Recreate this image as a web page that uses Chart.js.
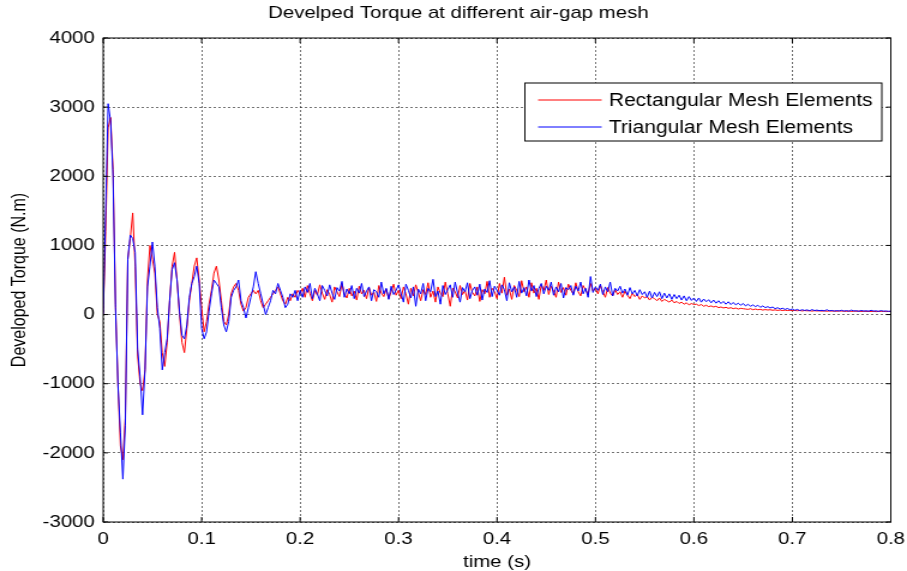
<!DOCTYPE html>
<html>
<head>
<meta charset="utf-8">
<script src="https://cdn.jsdelivr.net/npm/chart.js@4.4.1/dist/chart.umd.min.js"></script>
<style>
  html, body { margin: 0; padding: 0; background: #fff; }
  canvas { display: block; }
</style>
</head>
<body>
<!-- drawn narrow and stretched to 907px, like the original figure export -->
<canvas id="c" width="756" height="571" style="width:907px;height:571px"></canvas>
<script>
const TITLE = 'Develped Torque at different air-gap mesh';
const X_LABEL = 'time (s)';
const Y_LABEL = 'Developed Torque (N.m)';
const SERIES_NAMES = ['Rectangular Mesh Elements', 'Triangular Mesh Elements'];
const X_TICKS = [0, 0.1, 0.2, 0.3, 0.4, 0.5, 0.6, 0.7, 0.8];
const Y_TICKS = [-3000, -2000, -1000, 0, 1000, 2000, 3000, 4000];
const SAMPLE_STEP = 0.0025; // s between samples

// torque samples (N.m)
const RECT = [
  // 0 - 0.2 s
  0, 1200, 2700, 2850, 2100, 150, -1000, -1900, -2100, -1500,
  800, 1100, 1470, 700, -600, -1000, -1100, -800, 500, 1000,
  800, 600, 0, -100, -550, -750, -400, 200, 700, 900,
  500, 0, -400, -550, -200, 200, 450, 700, 820, 500,
  100, -250, -100, 150, 350, 600, 700, 500, 200, -100,
  -150, 0, 300, 400, 450, 350, 150, 50, 100, 250,
  300, 350, 300, 350, 200, 100, 150, 200, 250, 300,
  350, 400, 300, 200, 150, 250, 200, 300, 250, 350,
  300,
  // 0.2 - 0.5 s
  380, 250, 420, 300, 200, 350, 280, 430, 310, 220,
  360, 290, 180, 400, 330, 260, 450, 300, 240, 380,
  270, 340, 210, 410, 300, 350, 230, 390, 280, 320,
  190, 420, 310, 260, 370, 230, 330, 440, 280, 350,
  230, 400, 300, 150, 380, 270, 430, 320, 200, 360,
  290, 460, 250, 340, 180, 400, 310, 260, 470, 300,
  120, 380, 330, 240, 420, 290, 350, 210, 450, 320,
  270, 400, 190, 360, 300, 480, 250, 380, 330, 230,
  450, 310, 540, 280, 370, 220, 420, 350, 260, 490,
  330, 400, 250, 460, 310, 380, 220, 430, 350, 500,
  290, 410, 340, 250, 470, 320, 390, 280, 440, 350,
  300, 460, 330, 270, 420, 360, 290, 450, 340, 380,
  // 0.5 - 0.8 s
  300, 420, 330, 250, 390, 310, 270, 360, 290, 330,
  250, 340, 280, 230, 310, 260, 290, 220, 270, 240,
  260, 210, 250, 230, 200, 240, 190, 220, 200, 180,
  210, 170, 190, 160, 180, 150, 170, 140, 160, 145,
  150, 130, 145, 120, 135, 115, 125, 110, 120, 100,
  110, 95, 105, 90, 100, 85, 95, 80, 90, 85,
  80, 75, 85, 70, 80, 70, 75, 65, 72, 66,
  70, 62, 68, 60, 66, 58, 64, 58, 62, 57,
  60, 55, 60, 52, 58, 54, 56, 50, 56, 52,
  55, 50, 54, 48, 53, 50, 52, 47, 53, 50,
  50, 46, 52, 45, 50, 47, 51, 44, 49, 46,
  48, 44, 47, 42, 48, 45, 47, 43, 46, 44
];

const TRI = [
  // 0 - 0.2 s
  0, 1500, 3050, 2800, 2000, 100, -1000, -1700, -2380, -1600,
  800, 1150, 1100, 900, -500, -900, -1450, -800, 400, 700,
  1050, 700, 100, -200, -800, -550, -350, 200, 650, 750,
  500, 50, -300, -350, -150, 250, 450, 550, 700, 450,
  -200, -350, -250, 50, 300, 500, 450, 400, 100, -150,
  -250, -100, 250, 350, 400, 500, 200, 100, -50, 100,
  250, 400, 620, 450, 300, 150, 0, 100, 200, 350,
  300, 450, 350, 250, 100, 150, 300, 250, 350, 200,
  350,
  // 0.2 - 0.5 s
  250, 400, 320, 450, 230, 380, 300, 200, 420, 350,
  270, 430, 310, 220, 390, 340, 480, 250, 370, 300,
  420, 230, 380, 310, 450, 260, 340, 400, 200, 360,
  330, 250, 470, 300, 380, 220, 410, 290, 350, 430,
  310, 180, 440, 350, 240, 400, 120, 370, 300, 450,
  200, 380, 330, 510, 260, 340, 150, 420, 290, 360,
  430, 250, 470, 310, 180, 390, 330, 460, 230, 350,
  400, 280, 440, 210, 370, 320, 490, 260, 410, 350,
  280, 430, 360, 200, 460, 330, 400, 250, 480, 310,
  390, 270, 500, 340, 420, 260, 380, 450, 300, 410,
  350, 470, 280, 400, 330, 450, 240, 390, 360, 420,
  280, 410, 340, 470, 300, 380, 250, 550, 320, 400,
  // 0.5 - 0.8 s
  350, 440, 290, 400, 330, 470, 270, 380, 340, 410,
  310, 370, 280, 390, 300, 350, 270, 360, 290, 330,
  250, 340, 240, 320, 260, 330, 230, 310, 240, 300,
  220, 290, 230, 280, 210, 270, 200, 260, 205, 240,
  190, 240, 180, 225, 185, 215, 170, 210, 165, 200,
  160, 190, 150, 185, 145, 175, 140, 165, 135, 160,
  125, 150, 120, 140, 115, 135, 105, 125, 100, 115,
  95, 110, 85, 100, 80, 92, 75, 88, 70, 80,
  62, 75, 58, 70, 60, 68, 55, 72, 58, 65,
  55, 62, 52, 70, 54, 60, 50, 58, 52, 62,
  50, 58, 48, 65, 52, 56, 47, 60, 50, 55,
  48, 62, 50, 55, 46, 58, 49, 53, 47, 50
];

const FONT = "'Liberation Sans', Arial, sans-serif";

const toPoints = vals => vals.map((v, i) => ({ x: i * SAMPLE_STEP, y: v }));

// MATLAB-style box, inward ticks, title and legend inside the axes
const matlabFrame = {
  id: 'matlabFrame',
  afterDraw(chart) {
    const { ctx, chartArea: a, scales: { x, y } } = chart;
    ctx.save();
    ctx.strokeStyle = '#000';
    ctx.lineWidth = 1;
    ctx.strokeRect(a.left, a.top, a.right - a.left, a.bottom - a.top);
    ctx.beginPath();
    X_TICKS.forEach(v => {
      const px = x.getPixelForValue(v);
      ctx.moveTo(px, a.bottom); ctx.lineTo(px, a.bottom - 5);
      ctx.moveTo(px, a.top); ctx.lineTo(px, a.top + 5);
    });
    Y_TICKS.forEach(v => {
      const py = y.getPixelForValue(v);
      ctx.moveTo(a.left, py); ctx.lineTo(a.left + 4, py);
      ctx.moveTo(a.right, py); ctx.lineTo(a.right - 4, py);
    });
    ctx.stroke();

    ctx.fillStyle = '#000';
    ctx.font = `17px ${FONT}`;
    ctx.textAlign = 'center';
    ctx.textBaseline = 'middle';
    ctx.fillText(TITLE, 382, 13);

    // legend box
    const lx = 437.5, ly = 83, lw = 297.5, lh = 58;
    ctx.fillStyle = '#fff';
    ctx.fillRect(lx, ly, lw, lh);
    ctx.strokeRect(lx, ly, lw, lh);
    ctx.font = `17.5px ${FONT}`;
    ctx.textAlign = 'left';
    chart.data.datasets.forEach((ds, i) => {
      const yy = ly + 17 + i * 27;
      ctx.strokeStyle = ds.borderColor;
      ctx.beginPath();
      ctx.moveTo(lx + 11, yy); ctx.lineTo(lx + 64, yy);
      ctx.stroke();
      ctx.fillStyle = '#000';
      ctx.fillText(ds.label, lx + 70, yy + 1);
    });
    ctx.restore();
  }
};

const gridOpts = { color: 'rgba(0,0,0,0.55)', lineWidth: 1, drawTicks: false };
const borderOpts = { display: false, dash: [2, 2] };
const tickFont = { size: 17, family: FONT };

new Chart(document.getElementById('c'), {
  type: 'line',
  data: {
    datasets: [
      { label: SERIES_NAMES[0], data: toPoints(RECT), borderColor: '#ff0000', borderWidth: 1, pointRadius: 0, order: 1 },
      { label: SERIES_NAMES[1], data: toPoints(TRI), borderColor: '#0000ff', borderWidth: 1, pointRadius: 0, order: 0 },
    ],
  },
  options: {
    responsive: false,
    animation: false,
    devicePixelRatio: 1,
    layout: { padding: { top: 38, right: 13.5, left: 0, bottom: 0 } },
    plugins: { legend: { display: false }, tooltip: { enabled: false }, title: { display: false } },
    elements: { line: { tension: 0 } },
    scales: {
      x: {
        type: 'linear', min: 0, max: 0.8,
        afterBuildTicks: s => { s.ticks = X_TICKS.map(v => ({ value: v })); },
        afterFit: s => { s.height = 49; s.paddingLeft = 0; s.paddingRight = 0; },
        ticks: { color: '#000', padding: 7, maxRotation: 0, font: tickFont,
          callback: v => String(Number(v.toFixed(1))) },
        grid: gridOpts, border: borderOpts,
        title: { display: true, text: X_LABEL, color: '#000', font: { size: 17, family: FONT, lineHeight: 1 }, padding: { top: 0, bottom: 0 } },
      },
      y: {
        min: -3000, max: 4000,
        afterBuildTicks: s => { s.ticks = Y_TICKS.map(v => ({ value: v })); },
        afterFit: s => { s.width = 86; },
        ticks: { color: '#000', padding: 7, font: tickFont, callback: v => String(v) },
        grid: gridOpts, border: borderOpts,
        title: { display: true, text: Y_LABEL, color: '#000', font: { size: 16, family: FONT }, padding: { top: 7, bottom: 0 } },
      },
    },
  },
  plugins: [matlabFrame],
});
</script>
</body>
</html>
